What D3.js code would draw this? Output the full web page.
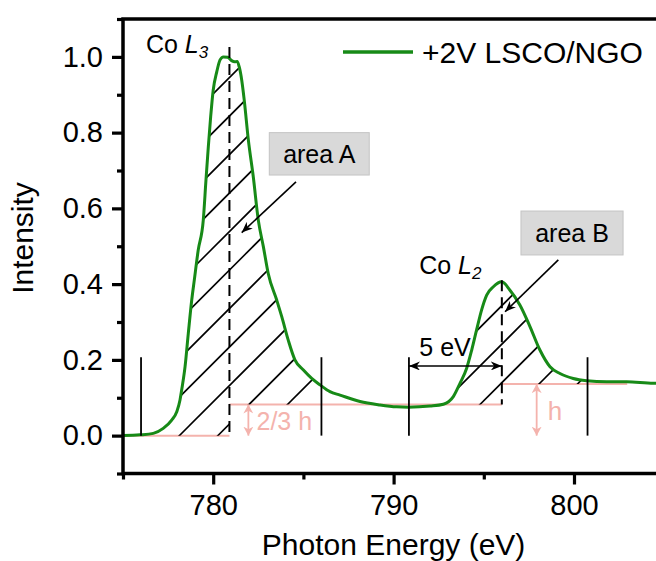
<!DOCTYPE html>
<html>
<head>
<meta charset="utf-8">
<script src="https://cdn.jsdelivr.net/npm/d3@7"></script>
<style>
  html, body { margin: 0; padding: 0; background: #fff; }
  svg { display: block; font-family: "Liberation Sans", Arial, sans-serif; }
</style>
</head>
<body>
<svg id="chart" width="656" height="561"></svg>
<script>
// ---------- data ----------
const energy = [775.0, 775.94, 776.68, 777.23, 777.7, 777.98, 778.16, 778.25, 778.44, 778.62, 778.81,
  778.95, 779.17, 779.45, 779.6, 779.73, 779.86, 780.0, 780.2, 780.38, 780.56, 780.8, 781.02, 781.2,
  781.33, 781.44, 781.58, 781.72, 781.95, 782.22, 782.5, 782.78, 783.05, 783.52, 783.8, 784.16, 784.53,
  785.0, 785.46, 785.92, 786.47, 787.03, 788.14, 789.25, 790.17, 790.82, 792.02, 792.76, 793.31, 793.68,
  794.05, 794.33, 794.6, 794.88, 795.16, 795.53, 795.99, 796.45, 797.0, 797.56, 798.11, 798.67, 799.22,
  799.96, 800.7, 801.81, 802.92, 804.4, 805.0];
const intensity = [0.0, 0.002, 0.006, 0.019, 0.041, 0.063, 0.094, 0.12, 0.182, 0.27, 0.358,
  0.41, 0.49, 0.569, 0.675, 0.763, 0.842, 0.912, 0.961, 0.992, 1.0, 0.999, 0.99, 0.987,
  0.988, 0.974, 0.939, 0.886, 0.78, 0.684, 0.569, 0.499, 0.428, 0.358, 0.314, 0.252, 0.2,
  0.173, 0.151, 0.134, 0.116, 0.107, 0.09, 0.081, 0.076, 0.075, 0.078, 0.083, 0.103, 0.138,
  0.178, 0.226, 0.279, 0.332, 0.371, 0.393, 0.406, 0.384, 0.345, 0.288, 0.226, 0.182, 0.164,
  0.151, 0.145, 0.142, 0.142, 0.138, 0.138];

const seriesName = "+2V LSCO/NGO";
const xMajorTicks = [780, 790, 800];
const xMinorTicks = [775, 785, 795, 805];
const yMajorTicks = [0.0, 0.2, 0.4, 0.6, 0.8, 1.0];
const yMinorTicks = [-0.1, 0.1, 0.3, 0.5, 0.7, 0.9, 1.1];

// integration windows and step baselines
const windowEdges = [776, 786, 790.85, 800.75];
const edgeTop = 0.207;
const peakL3 = 780.9, peakL2 = 796.0;
const baseLevels = [0.0, 0.082, 0.136];          // pre-L3, L3..L2, post-L2
const baseSegments = [[775, 780.9, 0.0], [780.9, 796.0, 0.082], [796.0, 802.95, 0.136]];
const hatchWindows = [[776, 786], [790.85, 800.75]];

// ---------- layout ----------
const svg = d3.select("#chart");
const x = d3.scaleLinear().domain([775, 805]).range([123, 664.2]);
const y = d3.scaleLinear().domain([-0.1, 1.1]).range([473.5, 19]);
const green = "#178a17";
const pink = "#f4b3ad";
const font = "'Liberation Sans', Arial, sans-serif";

const pts = energy.map((e, i) => ({ e, v: intensity[i] }));
const interp = (E) => {
  for (let i = 0; i < pts.length - 1; i++) {
    if (E >= pts[i].e && E <= pts[i + 1].e) {
      const t = (E - pts[i].e) / (pts[i + 1].e - pts[i].e);
      return pts[i].v + t * (pts[i + 1].v - pts[i].v);
    }
  }
  return pts[pts.length - 1].v;
};
const baseAt = (E, w) => {
  if (w === 0) return E < peakL3 ? baseLevels[0] : baseLevels[1];
  return E < peakL2 ? baseLevels[1] : baseLevels[2];
};

// ---------- defs ----------
const defs = svg.append("defs");
function marker(id, color, len, wid) {
  defs.append("marker").attr("id", id)
    .attr("viewBox", `0 ${-wid} ${len + 1} ${wid * 2}`)
    .attr("refX", len).attr("refY", 0)
    .attr("markerWidth", len + 1).attr("markerHeight", wid * 2)
    .attr("markerUnits", "userSpaceOnUse")
    .attr("orient", "auto-start-reverse")
    .append("path")
    .attr("d", `M0,${-wid} L${len},0 L0,${wid} L${len * 0.3},0 Z`)
    .attr("fill", color);
}
marker("arrBlack", "#000", 11, 4.5);
marker("arrPink", pink, 9, 5);

// hatch clip paths built from the data
hatchWindows.forEach((w, wi) => {
  const xs = [];
  for (let E = w[0]; E <= w[1] + 1e-9; E += 0.05) xs.push(E);
  xs.push(w[1]);
  const area = d3.area()
    .x(E => x(E))
    .y0(E => y(baseAt(E, wi)))
    .y1(E => y(Math.max(interp(E), baseAt(E, wi))))
    .curve(d3.curveStepAfter);
  defs.append("clipPath").attr("id", "hatch" + wi)
    .append("path").attr("d", d3.area()
      .x(E => x(E))
      .y0(E => y(baseAt(E, wi)))
      .y1(E => y(Math.max(interp(E), baseAt(E, wi))))(xs));
});

// ---------- pink baselines ----------
const g = svg.append("g");
baseSegments.forEach(s => {
  g.append("line").attr("x1", x(s[0])).attr("x2", x(s[1]))
    .attr("y1", y(s[2])).attr("y2", y(s[2]))
    .attr("stroke", pink).attr("stroke-width", 2);
});

// ---------- hatching ----------
hatchWindows.forEach((w, wi) => {
  const hg = g.append("g").attr("clip-path", `url(#hatch${wi})`);
  d3.range(-20, 30).forEach(k => {
    const c = 615 + k * 38.5;
    hg.append("line").attr("x1", c - 700).attr("y1", 700).attr("x2", c).attr("y2", 0)
      .attr("stroke", "#000").attr("stroke-width", 1.6);
  });
});

// ---------- curve ----------
g.append("path").datum(pts)
  .attr("d", d3.line().x(d => x(d.e)).y(d => y(d.v)).curve(d3.curveMonotoneX))
  .attr("fill", "none").attr("stroke", green).attr("stroke-width", 3).attr("stroke-linejoin", "round");

// ---------- window edges and peak markers ----------
windowEdges.forEach(E => {
  g.append("line").attr("x1", x(E)).attr("x2", x(E)).attr("y1", y(0)).attr("y2", y(edgeTop))
    .attr("stroke", "#000").attr("stroke-width", 1.8);
});
g.append("line").attr("x1", x(peakL3)).attr("x2", x(peakL3)).attr("y1", y(1.026)).attr("y2", y(0))
  .attr("stroke", "#000").attr("stroke-width", 2).attr("stroke-dasharray", "11,6");
g.append("line").attr("x1", x(peakL2)).attr("x2", x(peakL2)).attr("y1", y(0.41)).attr("y2", y(baseLevels[1]))
  .attr("stroke", "#000").attr("stroke-width", 2).attr("stroke-dasharray", "11,6");

// 5 eV arrow
g.append("line").attr("x1", x(windowEdges[2])).attr("x2", x(peakL2))
  .attr("y1", y(0.184)).attr("y2", y(0.184))
  .attr("stroke", "#000").attr("stroke-width", 1.6)
  .attr("marker-start", "url(#arrBlack)").attr("marker-end", "url(#arrBlack)");
g.append("text").attr("x", x(792.85)).attr("y", y(0.21)).attr("text-anchor", "middle")
  .attr("font-size", 25).attr("fill", "#000").text("5 eV");

// pink h arrows
g.append("line").attr("x1", x(797.93)).attr("x2", x(797.93))
  .attr("y1", y(baseLevels[2])).attr("y2", y(0))
  .attr("stroke", pink).attr("stroke-width", 1.8)
  .attr("marker-start", "url(#arrPink)").attr("marker-end", "url(#arrPink)");
g.append("text").attr("x", x(798.55)).attr("y", y(0.041)).attr("font-size", 26).attr("fill", pink).text("h");
g.append("line").attr("x1", x(781.95)).attr("x2", x(781.95))
  .attr("y1", y(baseLevels[1])).attr("y2", y(0))
  .attr("stroke", pink).attr("stroke-width", 1.8)
  .attr("marker-start", "url(#arrPink)").attr("marker-end", "url(#arrPink)");
g.append("text").attr("x", x(782.4)).attr("y", y(0.015)).attr("font-size", 25).attr("fill", pink).text("2/3 h");

// area boxes
function box(e0, e1, v0, v1, label) {
  g.append("rect").attr("x", x(e0)).attr("y", y(v0)).attr("width", x(e1) - x(e0)).attr("height", y(v1) - y(v0))
    .attr("fill", "#d9d9d9").attr("stroke", "#c4c4c4").attr("stroke-width", 1);
  g.append("text").attr("x", (x(e0) + x(e1)) / 2).attr("y", (y(v0) + y(v1)) / 2 + 9)
    .attr("text-anchor", "middle").attr("font-size", 25).attr("fill", "#000").text(label);
}
box(783.11, 788.65, 0.80, 0.688, "area A");
box(797.06, 802.72, 0.593, 0.477, "area B");
g.append("line").attr("x1", x(784.59)).attr("y1", y(0.670)).attr("x2", x(781.58)).attr("y2", y(0.536))
  .attr("stroke", "#000").attr("stroke-width", 1.6).attr("marker-end", "url(#arrBlack)");
g.append("line").attr("x1", x(799.13)).attr("y1", y(0.464)).attr("x2", x(796.18)).attr("y2", y(0.327))
  .attr("stroke", "#000").attr("stroke-width", 1.6).attr("marker-end", "url(#arrBlack)");

// Co L labels
function coLabel(E, v, sub) {
  const t = g.append("text").attr("x", x(E)).attr("y", y(v)).attr("font-size", 25).attr("fill", "#000");
  t.append("tspan").text("Co ");
  t.append("tspan").attr("font-style", "italic").text("L");
  t.append("tspan").attr("font-size", 17).attr("font-style", "italic").attr("dy", 5).text(sub);
}
coLabel(776.27, 1.009, "3");
coLabel(791.42, 0.426, "2");

// ---------- axes ----------
const axG = svg.append("g");
axG.append("rect").attr("x", x(775)).attr("y", y(1.1)).attr("width", x(805) - x(775)).attr("height", y(-0.1) - y(1.1))
  .attr("fill", "none").attr("stroke", "#000").attr("stroke-width", 3.5);

function styleAxis(sel) {
  sel.select(".domain").remove();
  sel.selectAll(".tick line").attr("stroke", "#000").attr("stroke-width", 3.2);
  sel.selectAll(".tick text").attr("font-family", font).attr("font-size", 29).attr("fill", "#000");
}
axG.append("g").attr("transform", `translate(0,${y(-0.1)})`)
  .call(d3.axisBottom(x).tickValues(xMajorTicks).tickFormat(d3.format("d")).tickSize(11).tickPadding(10))
  .call(styleAxis);
axG.append("g").attr("transform", `translate(0,${y(-0.1)})`)
  .call(d3.axisBottom(x).tickValues(xMinorTicks).tickFormat("").tickSize(6))
  .call(styleAxis);
axG.append("g").attr("transform", `translate(${x(775)},0)`)
  .call(d3.axisLeft(y).tickValues(yMajorTicks).tickFormat(d3.format(".1f")).tickSize(11).tickPadding(9))
  .call(styleAxis);
axG.append("g").attr("transform", `translate(${x(775)},0)`)
  .call(d3.axisLeft(y).tickValues(yMinorTicks).tickFormat("").tickSize(6))
  .call(styleAxis);

// titles
svg.append("text").attr("x", (x(775) + x(805)) / 2).attr("y", 555).attr("text-anchor", "middle")
  .attr("font-size", 30).attr("fill", "#000").text("Photon Energy (eV)");
svg.append("text").attr("transform", "translate(33,238) rotate(-90)").attr("text-anchor", "middle")
  .attr("font-size", 30).attr("fill", "#000").text("Intensity");

// legend
const lg = svg.append("g");
lg.append("line").attr("x1", 343).attr("x2", 413).attr("y1", 52).attr("y2", 52)
  .attr("stroke", green).attr("stroke-width", 3.5);
lg.append("text").attr("x", 422).attr("y", 63).attr("font-size", 30).attr("fill", "#000").text(seriesName);
</script>
</body>
</html>
